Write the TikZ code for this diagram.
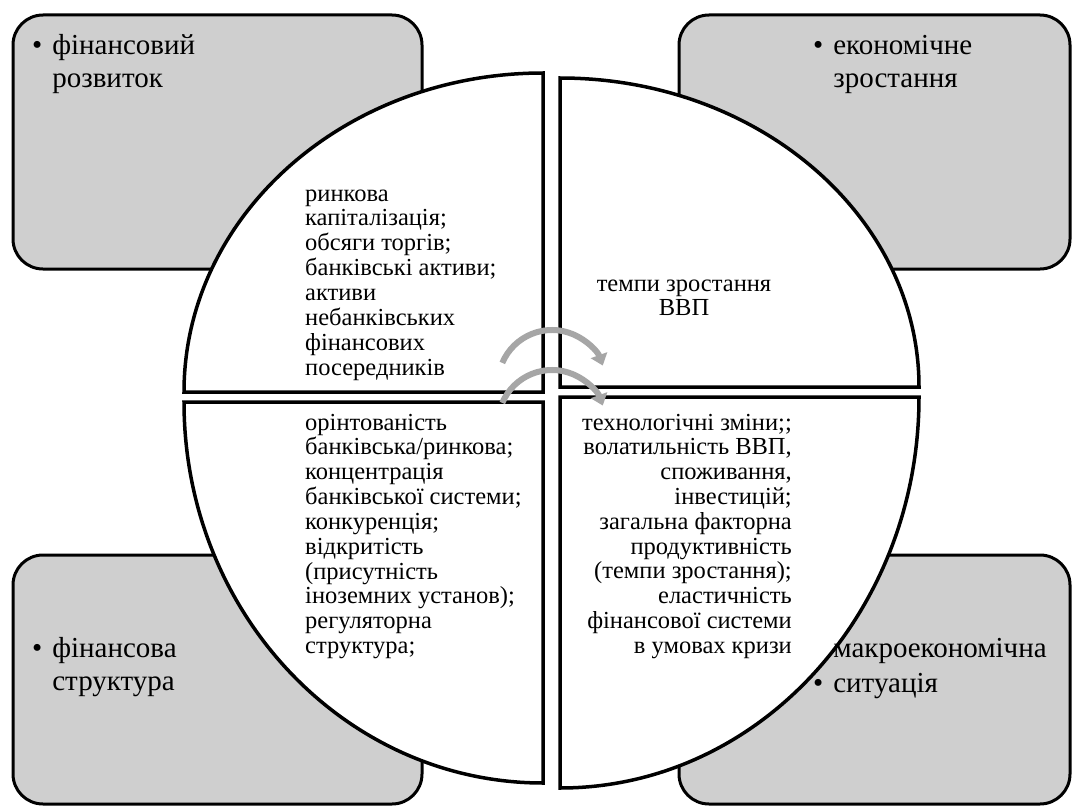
\documentclass[tikz,border=0pt]{standalone}
\usepackage{fontspec}
\setmainfont{Liberation Serif}
\usetikzlibrary{arrows.meta}
\definecolor{boxgray}{RGB}{207,207,207}
\definecolor{arrgray}{RGB}{166,166,166}
\begin{document}
\begin{tikzpicture}[x=1pt,y=-1pt,
  cornerbox/.style={draw=black, line width=3pt, fill=boxgray, rounded corners=30pt, inner sep=0pt, outer sep=0pt},
  quad/.style={draw=black, line width=3.5pt, fill=white, line join=miter},
  qtext/.style={inner sep=0pt, font=\fontsize{24.5}{24.8}\selectfont},
  ctext/.style={inner sep=0pt, font=\fontsize{29}{33}\selectfont},
  cyc/.style={draw=arrgray, line width=6pt, -{Triangle[width=17pt,length=11pt]}}
]
\useasboundingbox (0,0) rectangle (1079,808);
% corner boxes
\node[cornerbox, minimum width=409pt, minimum height=254pt] (tlbox) at (217.5,142) {};
\node[cornerbox, minimum width=391pt, minimum height=254pt] (trbox) at (874.5,142) {};
\node[cornerbox, minimum width=409pt, minimum height=249pt] (blbox) at (217.5,679.5) {};
\node[cornerbox, minimum width=391pt, minimum height=249pt] (brbox) at (874.5,679.5) {};
% quadrants
\draw[quad] (543,392) -- (184,392) arc[start angle=180,end angle=270,x radius=359,y radius=319] -- cycle;
\draw[quad] (560,387) -- (560,78) arc[start angle=270,end angle=360,x radius=359,y radius=309] -- cycle;
\draw[quad] (560,397) -- (919,397) arc[start angle=0,end angle=90,x radius=359,y radius=391] -- cycle;
\draw[quad] (543,402) -- (543,783) arc[start angle=90,end angle=180,x radius=359,y radius=381] -- cycle;
% cycle arrows
\coordinate (a1s) at (502.3,362.9);
\coordinate (a2s) at (502.3,402.9);
\draw[cyc] (a1s) arc[start angle=203,end angle=340,radius=54];
\draw[cyc] (a2s) arc[start angle=203,end angle=340,radius=54];
% quadrant texts
\node[qtext, anchor=base west] (tlq) at (305,201) {\begin{tabular}[t]{@{}l@{}}ринкова\\капіталізація;\\обсяги торгів;\\банківські активи;\\активи\\небанківських\\фінансових\\посередників\end{tabular}};
\node[qtext, anchor=base] (trq) at (684,291) {\begin{tabular}[t]{@{}c@{}}темпи зростання\\ВВП\end{tabular}};
\node[qtext, anchor=base west] (blq) at (305,430) {\begin{tabular}[t]{@{}l@{}}орінтованість\\банківська/ринкова;\\концентрація\\банківської системи;\\конкуренція;\\відкритість\\(присутність\\іноземних установ);\\регуляторна\\структура;\end{tabular}};
\node[qtext, anchor=base east] (brq) at (792,430) {\begin{tabular}[t]{@{}r@{}}технологічні зміни;;\\волатильність ВВП,\\споживання,\\інвестицій;\\загальна факторна\\продуктивність\\(темпи зростання);\\еластичність\\фінансової системи\\в умовах кризи\end{tabular}};
% corner texts
\node[ctext, anchor=base west] (tlt) at (32,55) {\begin{tabular}[t]{@{}l@{\hspace{10pt}}l@{}}•&фінансовий\\&розвиток\end{tabular}};
\node[ctext, anchor=base west] (trt) at (813,55) {\begin{tabular}[t]{@{}l@{\hspace{10pt}}l@{}}•&економічне\\&зростання\end{tabular}};
\node[ctext, anchor=base west] (blt) at (32,657) {\begin{tabular}[t]{@{}l@{\hspace{10pt}}l@{}}•&фінансова\\&структура\end{tabular}};
\node[ctext, anchor=base west, font=\fontsize{29}{35}\selectfont] (brt) at (813,657) {\begin{tabular}[t]{@{}l@{\hspace{10pt}}l@{}}&макроекономічна\\•&ситуація\end{tabular}};
\end{tikzpicture}
\end{document}
